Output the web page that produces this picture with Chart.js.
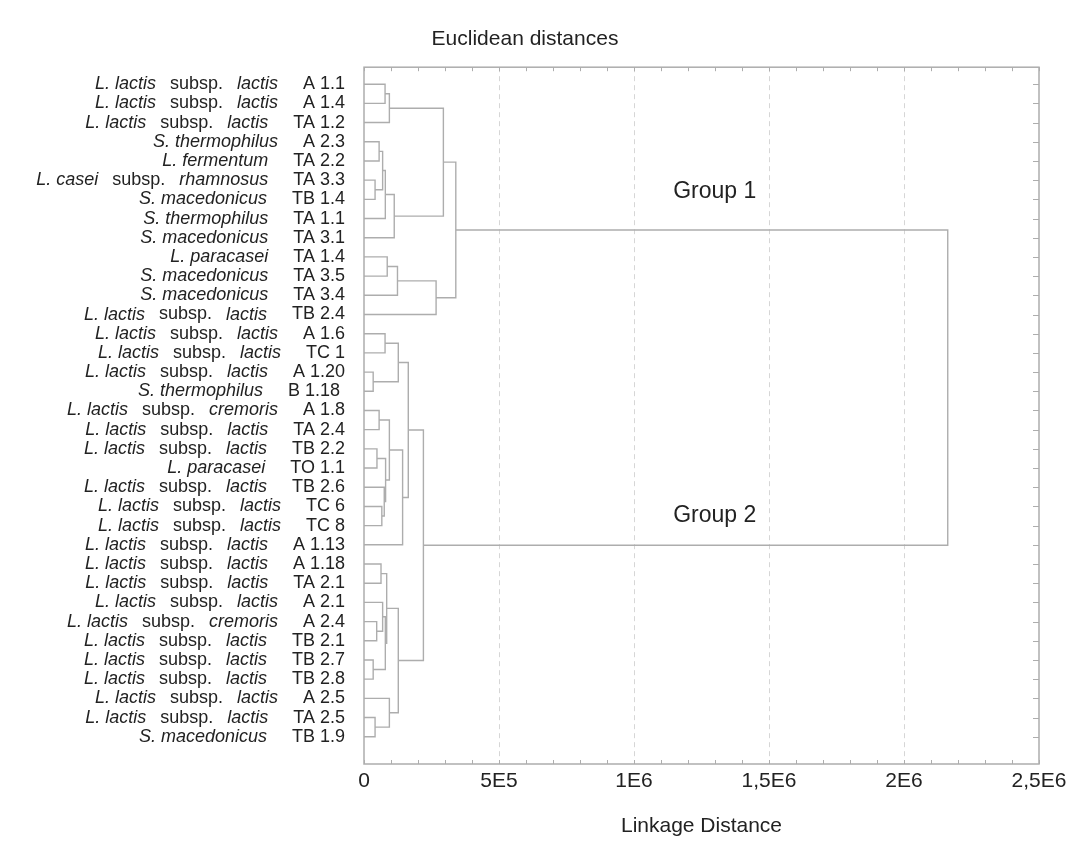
<!DOCTYPE html>
<html>
<head>
<meta charset="utf-8">
<script src="https://cdn.jsdelivr.net/npm/chart.js@4"></script>
<style>
  html, body { margin: 0; background: #fff; }
  #wrap { width: 1080px; height: 844px; }
</style>
</head>
<body>
<div id="wrap"><canvas id="dendro"></canvas></div>
<script>
// leaves, top to bottom
const leafSpecies = [
  'L. lactis subsp. lactis', 'L. lactis subsp. lactis', 'L. lactis subsp. lactis',
  'S. thermophilus', 'L. fermentum', 'L. casei subsp. rhamnosus', 'S. macedonicus',
  'S. thermophilus', 'S. macedonicus', 'L. paracasei', 'S. macedonicus', 'S. macedonicus',
  'L. lactis subsp. lactis', 'L. lactis subsp. lactis', 'L. lactis subsp. lactis',
  'L. lactis subsp. lactis', 'S. thermophilus', 'L. lactis subsp. cremoris',
  'L. lactis subsp. lactis', 'L. lactis subsp. lactis', 'L. paracasei',
  'L. lactis subsp. lactis', 'L. lactis subsp. lactis', 'L. lactis subsp. lactis',
  'L. lactis subsp. lactis', 'L. lactis subsp. lactis', 'L. lactis subsp. lactis',
  'L. lactis subsp. lactis', 'L. lactis subsp. cremoris', 'L. lactis subsp. lactis',
  'L. lactis subsp. lactis', 'L. lactis subsp. lactis', 'L. lactis subsp. lactis',
  'L. lactis subsp. lactis', 'S. macedonicus'
];
const leafCodes = [
  'A 1.1', 'A 1.4', 'TA 1.2', 'A 2.3', 'TA 2.2', 'TA 3.3', 'TB 1.4', 'TA 1.1', 'TA 3.1',
  'TA 1.4', 'TA 3.5', 'TA 3.4', 'TB 2.4', 'A 1.6', 'TC 1', 'A 1.20', 'B 1.18 ', 'A 1.8',
  'TA 2.4', 'TB 2.2', 'TO 1.1', 'TB 2.6', 'TC 6', 'TC 8', 'A 1.13', 'A 1.18', 'TA 2.1',
  'A 2.1', 'A 2.4', 'TB 2.1', 'TB 2.7', 'TB 2.8', 'A 2.5', 'TA 2.5', 'TB 1.9'
];

// linkage table: ids < 35 are leaves, id 35+k is the cluster made by merge k
const mergeLeft  = [0, 35, 3, 5, 37, 39, 40, 36, 9, 43, 44, 42,
                    13, 15, 47, 17, 19, 22, 21, 51, 50, 55, 49,
                    25, 28, 27, 30, 60, 58, 33, 32, 63, 57, 46];
const mergeRight = [1, 2, 4, 6, 38, 7, 8, 41, 10, 11, 12, 45,
                    14, 16, 48, 18, 20, 23, 52, 53, 54, 24, 56,
                    26, 29, 59, 31, 61, 62, 34, 64, 65, 66, 67];
const mergeHeight = [78000, 94000, 56000, 41000, 69000, 79000, 112000, 294000, 86000, 124000, 267000, 340000,
                     78000, 34000, 127000, 56000, 48000, 66000, 75000, 80000, 94000, 143000, 164000,
                     63000, 47000, 69000, 34000, 79000, 84000, 41000, 94000, 127000, 220000, 2162000];

const xTickLabels = ['0', '5E5', '1E6', '1,5E6', '2E6', '2,5E6'];
const groupNames = ['Group 1', 'Group 2'];

// build the dendrogram polylines from the linkage table
const nodeY = leafCodes.map((_, i) => i);
const nodeH = leafCodes.map(() => 0);
const links = [];
mergeLeft.forEach((a, k) => {
  const b = mergeRight[k], h = mergeHeight[k];
  links.push({x: nodeH[a], y: nodeY[a]}, {x: h, y: nodeY[a]},
             {x: h, y: nodeY[b]}, {x: nodeH[b], y: nodeY[b]}, {x: null, y: null});
  nodeY.push((nodeY[a] + nodeY[b]) / 2);
  nodeH.push(h);
});

const FONT = '"Liberation Sans", Arial, sans-serif';
const LINE = '#adadad';

// species names next to the strain codes (italic + roman parts)
const leafNames = {
  id: 'leafNames',
  afterDraw(chart) {
    const ctx = chart.ctx, ys = chart.scales.y;
    const size = ys.options.ticks.font.size;
    ctx.save();
    ctx.fillStyle = '#222';
    ctx.textBaseline = 'middle';
    ctx.textAlign = 'right';
    leafSpecies.forEach((name, i) => {
      const y = ys.getPixelForValue(i);
      ctx.font = size + 'px ' + FONT;
      let right = ys.right - ys.options.ticks.padding - ctx.measureText(leafCodes[i]).width - 25;
      const bits = name.split(' subsp. ');
      const parts = bits.length === 2
        ? [[bits[0], true], ['subsp.', false], [bits[1], true]]
        : [[name, true]];
      for (let p = parts.length - 1; p >= 0; p--) {
        ctx.font = (parts[p][1] ? 'italic ' : '') + size + 'px ' + FONT;
        ctx.fillText(parts[p][0], right, y);
        right -= ctx.measureText(parts[p][0]).width + 14;
      }
    });
    ctx.restore();
  }
};

// frame with inward ticks, plus the group labels
const frame = {
  id: 'frame',
  afterDatasetsDraw(chart, args, opts) {
    const ctx = chart.ctx, a = chart.chartArea;
    const xs = chart.scales.x, ys = chart.scales.y;
    ctx.save();
    ctx.strokeStyle = LINE;
    ctx.lineWidth = 1.5;
    ctx.strokeRect(a.left, a.top, a.right - a.left, a.bottom - a.top);
    ctx.lineWidth = 1;
    ctx.beginPath();
    xs.ticks.forEach(t => {
      const x = Math.round(xs.getPixelForValue(t.value)) + 0.5;
      ctx.moveTo(x, a.top); ctx.lineTo(x, a.top + 4);
      ctx.moveTo(x, a.bottom); ctx.lineTo(x, a.bottom - 4);
    });
    ys.ticks.forEach(t => {
      const y = Math.round(ys.getPixelForValue(t.value)) + 0.5;
      ctx.moveTo(a.right, y); ctx.lineTo(a.right - 6, y);
    });
    ctx.stroke();
    ctx.fillStyle = '#222';
    ctx.font = opts.size + 'px ' + FONT;
    ctx.textBaseline = 'middle';
    groupNames.forEach((g, i) => {
      ctx.fillText(g, xs.getPixelForValue(opts.at[i][0]), ys.getPixelForValue(opts.at[i][1]));
    });
    ctx.restore();
  }
};

new Chart(document.getElementById('dendro'), {
  type: 'scatter',
  data: {
    datasets: [{
      data: links,
      showLine: true,
      spanGaps: false,
      borderColor: LINE,
      borderWidth: 1.4,
      pointRadius: 0,
      fill: false
    }]
  },
  options: {
    responsive: true,
    maintainAspectRatio: false,
    animation: false,
    layout: { padding: { left: 11, right: 41, top: 0, bottom: 0 } },
    plugins: {
      legend: { display: false },
      tooltip: { enabled: false },
      title: {
        display: true,
        text: 'Euclidean distances',
        color: '#222',
        font: { family: FONT, size: 21, weight: 'normal' },
        padding: { top: 27, bottom: 15 }
      },
      frame: { size: 23, at: [[1145000, 5.6], [1145000, 22.5]] }
    },
    scales: {
      x: {
        type: 'linear',
        min: 0,
        max: 2500000,
        afterFit: s => { s.height = 80; },
        ticks: {
          stepSize: 100000,
          autoSkip: false,
          maxRotation: 0,
          padding: 5,
          color: '#222',
          font: { family: FONT, size: 21 },
          callback: v => (v % 500000 === 0 ? xTickLabels[v / 500000] : '')
        },
        grid: {
          drawTicks: false,
          color: c => (c.tick && c.tick.value % 500000 === 0 && c.tick.value > 0 && c.tick.value < 2500000)
            ? '#d6d6d6' : 'rgba(0,0,0,0)'
        },
        border: { display: false, dash: [5, 4] },
        title: {
          display: true,
          text: 'Linkage Distance',
          color: '#222',
          font: { family: FONT, size: 21 },
          padding: { top: 0, bottom: 5 }
        }
      },
      y: {
        type: 'linear',
        reverse: true,
        min: -0.885,
        max: 35.42,
        afterFit: s => { s.width = 353; },
        afterBuildTicks: s => { s.ticks = leafCodes.map((_, i) => ({ value: i })); },
        ticks: {
          autoSkip: false,
          padding: 19,
          color: '#222',
          font: { family: FONT, size: 18 },
          callback: v => leafCodes[v]
        },
        grid: { display: false, drawTicks: false },
        border: { display: false }
      }
    }
  },
  plugins: [leafNames, frame]
});
</script>
</body>
</html>
